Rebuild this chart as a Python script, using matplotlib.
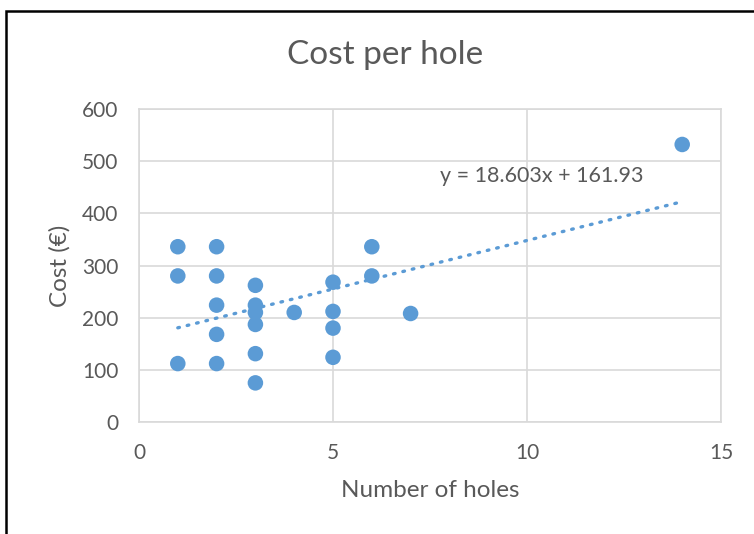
import matplotlib.pyplot as plt
from matplotlib.patches import Rectangle
import numpy as np

# data
holes = [1, 1, 1,
         2, 2, 2, 2, 2,
         3, 3, 3, 3, 3, 3,
         4,
         5, 5, 5, 5,
         6, 6,
         7,
         14]
cost = [336, 280, 112,
        336, 280, 224, 168, 112,
        262, 224, 210, 187, 131, 75,
        210,
        268, 212, 180, 124,
        336, 280,
        208,
        532]

slope = 18.603
intercept = 161.93

blue = '#5B9BD5'
gray_text = '#595959'
grid_col = '#D9D9D9'

plt.rcParams['font.family'] = ['Lato', 'DejaVu Sans']

fig = plt.figure(figsize=(7.54, 5.34), dpi=100)
ax = fig.add_axes([139 / 754, 1 - 422 / 534, 582 / 754, 313 / 534])

# black frame (only top and left edges fall inside the image)
fig.patches.append(Rectangle((6 / 754, -0.2), 1.2, 1.2 - 11 / 534,
                             transform=fig.transFigure, fill=False,
                             edgecolor='black', linewidth=1.8, zorder=0))

ax.scatter(holes, cost, s=125, color=blue, edgecolors='none', zorder=3)

# linear trendline
x_fit = np.array([min(holes), max(holes)])
ax.plot(x_fit, slope * x_fit + intercept, color=blue, linewidth=2.4,
        linestyle=(0, (0.5, 2.4)), dash_capstyle='round', zorder=2)

ax.text(7.75, 471, f"y = {slope}x + {intercept}", fontsize=15.5,
        color=gray_text, ha='left', va='center')

ax.set_xlim(0, 15)
ax.set_ylim(0, 600)
ax.set_xticks([0, 5, 10, 15])
ax.set_yticks(np.arange(0, 601, 100))
ax.grid(True, color=grid_col, linewidth=1.2)
ax.set_axisbelow(True)
for s in ax.spines.values():
    s.set_color(grid_col)
    s.set_linewidth(1.2)
ax.tick_params(axis='x', length=0, labelsize=15, colors=gray_text, pad=15)
ax.tick_params(axis='y', length=0, labelsize=15, colors=gray_text, pad=15)

ax.set_xlabel("Number of holes", fontsize=17.5, color=gray_text, labelpad=12)
ax.set_ylabel("Cost (€)", fontsize=17.5, color=gray_text, labelpad=8)

fig.text(385 / 754, 1 - 55 / 534, "Cost per hole", fontsize=24,
         color=gray_text, ha='center', va='center')

fig.savefig("out.png", dpi=100)
